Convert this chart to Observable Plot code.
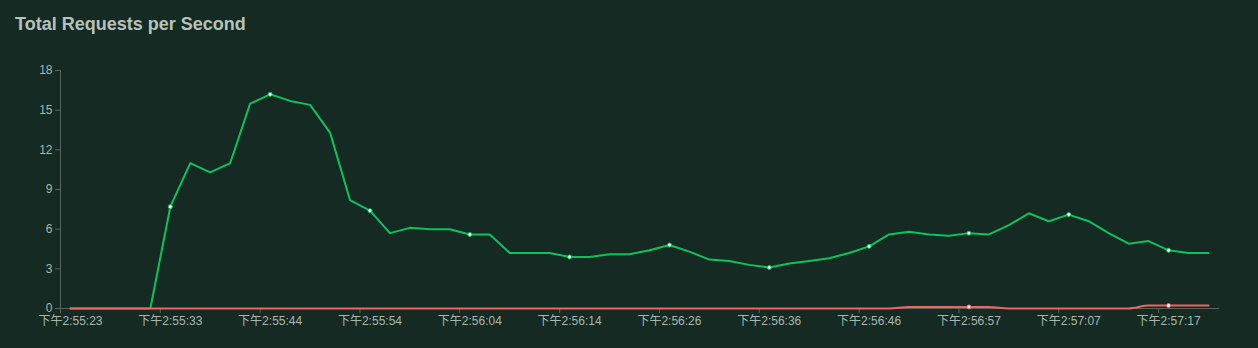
<!DOCTYPE html>
<html>
<head>
<meta charset="utf-8">
<script src="https://cdn.jsdelivr.net/npm/d3@7"></script>
<script src="https://cdn.jsdelivr.net/npm/@observablehq/plot@0.6"></script>
<style>
  html, body { margin: 0; padding: 0; background: #152a22; }
  #wrap { position: relative; width: 1258px; height: 348px; overflow: hidden; background: #152a22; }
  #title { position: absolute; left: 15px; top: 15px; font: 700 18px/18px "Liberation Sans", Arial, sans-serif; color: #b5c3bc; margin: 0; }
  #chart { position: absolute; left: 0; top: 40px; }
</style>
</head>
<body>
<div id="wrap">
  <div id="title">Total Requests per Second</div>
  <div id="chart"></div>
</div>
<script>
const times = [
  "下午2:55:23","下午2:55:25","下午2:55:27","下午2:55:29","下午2:55:31",
  "下午2:55:33","下午2:55:35","下午2:55:37","下午2:55:39","下午2:55:41",
  "下午2:55:44","下午2:55:46","下午2:55:48","下午2:55:50","下午2:55:52",
  "下午2:55:54","下午2:55:56","下午2:55:58","下午2:56:00","下午2:56:02",
  "下午2:56:04","下午2:56:06","下午2:56:08","下午2:56:10","下午2:56:12",
  "下午2:56:14","下午2:56:16","下午2:56:19","下午2:56:21","下午2:56:23",
  "下午2:56:26","下午2:56:28","下午2:56:30","下午2:56:32","下午2:56:34",
  "下午2:56:36","下午2:56:38","下午2:56:40","下午2:56:42","下午2:56:44",
  "下午2:56:46","下午2:56:48","下午2:56:50","下午2:56:52","下午2:56:55",
  "下午2:56:57","下午2:56:59","下午2:57:01","下午2:57:03","下午2:57:05",
  "下午2:57:07","下午2:57:09","下午2:57:11","下午2:57:13","下午2:57:15",
  "下午2:57:17","下午2:57:19","下午2:57:21"
];
const totalRps = [
  0, 0, 0, 0, 0,
  7.7, 11.0, 10.3, 11.0, 15.5,
  16.2, 15.7, 15.4, 13.3, 8.2,
  7.4, 5.7, 6.1, 6.0, 6.0,
  5.6, 5.6, 4.2, 4.2, 4.2,
  3.9, 3.9, 4.1, 4.1, 4.4,
  4.8, 4.3, 3.7, 3.6, 3.3,
  3.1, 3.4, 3.6, 3.8, 4.2,
  4.7, 5.6, 5.8, 5.6, 5.5,
  5.7, 5.6, 6.3, 7.2, 6.6,
  7.1, 6.6, 5.7, 4.9, 5.1,
  4.4, 4.2, 4.2
];
const failuresRps = [
  0, 0, 0, 0, 0, 0, 0, 0, 0, 0,
  0, 0, 0, 0, 0, 0, 0, 0, 0, 0,
  0, 0, 0, 0, 0, 0, 0, 0, 0, 0,
  0, 0, 0, 0, 0, 0, 0, 0, 0, 0,
  0, 0, 0.12, 0.12, 0.12, 0.12, 0.12, 0, 0, 0,
  0, 0, 0, 0, 0.22, 0.22, 0.22, 0.22
];
const yTicks = [0, 3, 6, 9, 12, 15, 18];
const labelEvery = 5;

const W = 1258, H = 308;
const mL = 60, mR = 40, mT = 30, mB = 40;
const step = (W - mL - mR) / times.length;

const green = "#0bc35c";
const red = "#ee6464";
const axisColor = "#56665f";
const textColor = "#aab6b0";

const rows = times.map((t, i) => ({t, i, total: totalRps[i], fail: failuresRps[i]}));
const tickTimes = times.filter((t, i) => i % labelEvery === 0);
const greenDots = rows.filter(d => d.i % labelEvery === 0 && d.total > 0);
const redDots = rows.filter(d => d.i % labelEvery === 0 && d.fail > 0);

const chart = Plot.plot({
  width: W, height: H,
  marginLeft: mL, marginRight: mR, marginTop: mT, marginBottom: mB,
  style: {background: "transparent", fontFamily: "'Liberation Sans', 'Noto Sans CJK SC', sans-serif", fontSize: "12px", color: textColor},
  x: {type: "point", domain: times, padding: 0.5, round: false, axis: null},
  y: {domain: [0, 18], axis: null},
  marks: [
    Plot.frame({anchor: "left", stroke: axisColor, strokeOpacity: 1}),
    Plot.frame({anchor: "bottom", stroke: axisColor, strokeOpacity: 1}),
    Plot.axisY({ticks: yTicks, tickSize: 5, tickPadding: 3, stroke: axisColor, fill: textColor, fontSize: 12, label: null}),
    Plot.ruleX(tickTimes, {x: d => d, y1: 0, y2: 0, insetBottom: -5, dx: -step / 2, stroke: axisColor}),
    Plot.axisX({ticks: tickTimes, tickSize: 0, tickPadding: 8, fill: textColor, fontSize: 12, label: null}),
    Plot.line(rows, {x: "t", y: "total", stroke: green, strokeWidth: 2}),
    Plot.line(rows, {x: "t", y: "fail", stroke: red, strokeWidth: 2, curve: "monotone-x"}),
    Plot.dot(greenDots, {x: "t", y: "total", r: 2, fill: "#ffffff", stroke: green, strokeWidth: 1}),
    Plot.dot(redDots, {x: "t", y: "fail", r: 2, fill: "#ffffff", stroke: red, strokeWidth: 1})
  ]
});
document.getElementById("chart").appendChild(chart);
</script>
</body>
</html>
